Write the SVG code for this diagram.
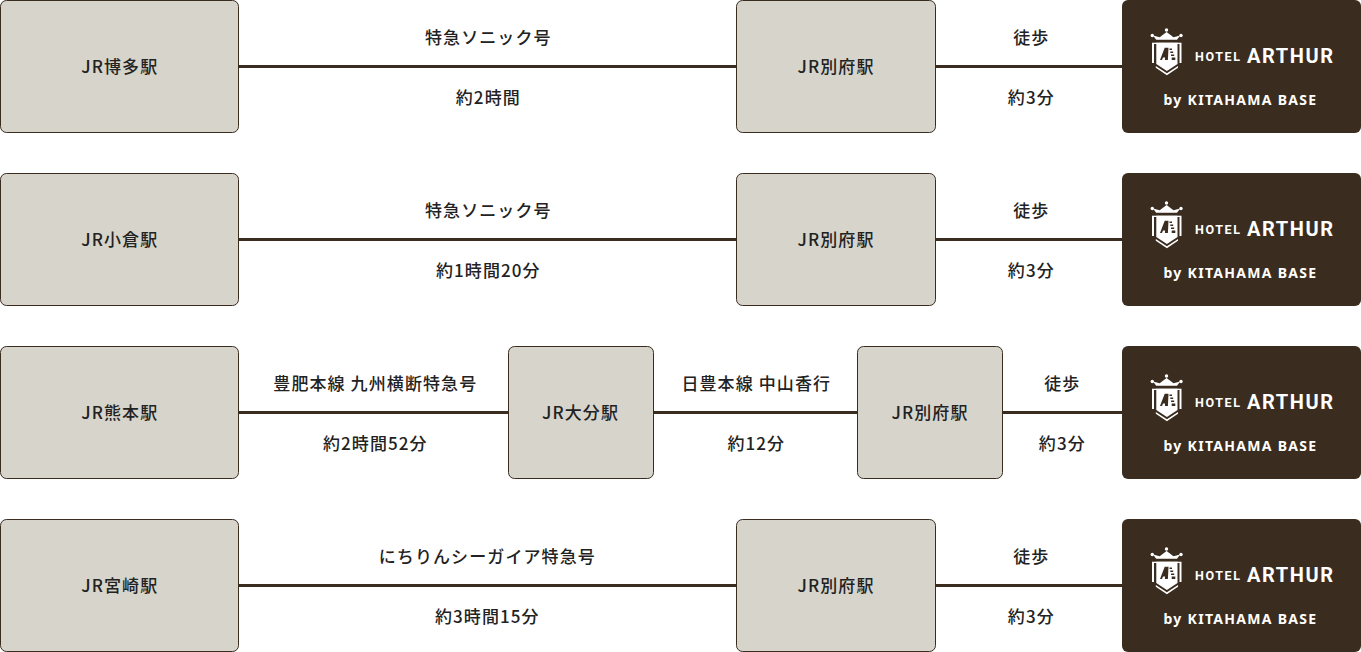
<svg xmlns="http://www.w3.org/2000/svg" width="1361" height="652" viewBox="0 0 1361 652">
<style>
text{font-family:"Noto Sans CJK JP","Noto Sans",sans-serif;font-weight:500;font-size:17px;fill:#222;text-anchor:middle;letter-spacing:1.1px}
.st{fill:#d6d4cb;stroke:#3a2d20;stroke-width:1}
.ln{stroke:#3a2d20;stroke-width:3;fill:none}
.hb{fill:#3a2d20}
.w{fill:#fff}
text.h1{font-family:"Roboto","Liberation Sans",sans-serif;font-size:12.5px;font-weight:700;fill:#fff;text-anchor:start;letter-spacing:1.6px}
text.h2{font-family:"Roboto","Liberation Sans",sans-serif;font-size:20px;font-weight:700;fill:#fff;text-anchor:start;letter-spacing:1.6px}
text.by{font-family:"Noto Sans","Liberation Sans",sans-serif;font-size:14px;font-weight:700;fill:#fff;letter-spacing:1.3px}
</style>
<defs>
<g id="logo">
<rect class="hb" x="1122" y="0" width="239" height="133" rx="6"/>
<circle class="w" cx="1166.500" cy="30" r="1.700"/><circle class="w" cx="1152.300" cy="35.500" r="1.700"/><circle class="w" cx="1181" cy="35.500" r="1.700"/>
<path class="w" d="M1153 35.500l6.700 1.800 6.900-5.300 6.900 5.300 6.700-1.800-3.200 4.200h-20.800z"/>
<path class="w" d="M1152 42.700h29.500v1.300h-29.500z"/>
<path class="w" d="M1152 44h2v19h-2zM1179.500 44h2v19h-2z"/>
<path class="w" d="M1156.300 42.700h21.200v21.300l-10.600 7-10.600-7z"/>
<path class="w" d="M1155.800 66l11.100 7.300 11.100-7.300v1.800l-11.100 7.500-11.100-7.500z"/>
<path class="hb" d="M1160 60l4.700-12.300h3.800l-.6 12.300h-3l.2-2.600h-2.100l-1 2.600z"/>
<path class="hb" d="M1169.500 48.500h2.500v1.500h-2.500zM1170.300 51.500h2.900v1.500h-2.900zM1171 54.500h3.200v1.500h-3.200zM1171.700 57.500h3.600v2.500h-3.600z"/>
<text class="h1" x="1195" y="60.500">HOTEL</text>
<text class="h2" x="1247" y="63">ARTHUR</text>
<text class="by" x="1240.500" y="104.500">by KITAHAMA BASE</text>
</g>
</defs>

<g id="connectors">
<path class="ln" d="M238 66.500H737M935 66.500H1122"/>
<path class="ln" d="M238 239.500H737M935 239.500H1122"/>
<path class="ln" d="M238 412.500H509M653 412.500H858M1002 412.500H1122"/>
<path class="ln" d="M238 585.500H737M935 585.500H1122"/>
</g>

<g id="labels">
<text x="488.300" y="43.700">特急ソニック号</text><text x="488.300" y="103.700">約2時間</text>
<text x="1031.300" y="43.700">徒歩</text><text x="1031.300" y="103.700">約3分</text>
<text x="488.300" y="216.700">特急ソニック号</text><text x="488.300" y="276.700">約1時間20分</text>
<text x="1031.300" y="216.700">徒歩</text><text x="1031.300" y="276.700">約3分</text>
<text x="375.300" y="389.700">豊肥本線 九州横断特急号</text><text x="375.300" y="449.700">約2時間52分</text>
<text x="756.300" y="389.700">日豊本線 中山香行</text><text x="756.300" y="449.700">約12分</text>
<text x="1062.300" y="389.700">徒歩</text><text x="1062.300" y="449.700">約3分</text>
<text x="487.300" y="562.700">にちりんシーガイア特急号</text><text x="487.300" y="622.700">約3時間15分</text>
<text x="1031.300" y="562.700">徒歩</text><text x="1031.300" y="622.700">約3分</text>
</g>

<g id="n-hakata"><rect class="st" x="0.500" y="0.500" width="238" height="132" rx="6"/><text x="119.800" y="72.700">JR博多駅</text></g>
<g id="n-beppu1"><rect class="st" x="736.500" y="0.500" width="199" height="132" rx="6"/><text x="836" y="72.700">JR別府駅</text></g>
<g id="n-hotel1"><use href="#logo"/></g>

<g id="n-kokura"><rect class="st" x="0.500" y="173.500" width="238" height="132" rx="6"/><text x="119.800" y="245.700">JR小倉駅</text></g>
<g id="n-beppu2"><rect class="st" x="736.500" y="173.500" width="199" height="132" rx="6"/><text x="836" y="245.700">JR別府駅</text></g>
<g id="n-hotel2"><use href="#logo" y="173"/></g>

<g id="n-kumamoto"><rect class="st" x="0.500" y="346.500" width="238" height="132" rx="6"/><text x="119.800" y="418.700">JR熊本駅</text></g>
<g id="n-oita"><rect class="st" x="508.500" y="346.500" width="145" height="132" rx="6"/><text x="580.500" y="418.700">JR大分駅</text></g>
<g id="n-beppu3"><rect class="st" x="857.500" y="346.500" width="145" height="132" rx="6"/><text x="930" y="418.700">JR別府駅</text></g>
<g id="n-hotel3"><use href="#logo" y="346"/></g>

<g id="n-miyazaki"><rect class="st" x="0.500" y="519.500" width="238" height="132" rx="6"/><text x="119.800" y="591.700">JR宮崎駅</text></g>
<g id="n-beppu4"><rect class="st" x="736.500" y="519.500" width="199" height="132" rx="6"/><text x="836" y="591.700">JR別府駅</text></g>
<g id="n-hotel4"><use href="#logo" y="519"/></g>
</svg>
